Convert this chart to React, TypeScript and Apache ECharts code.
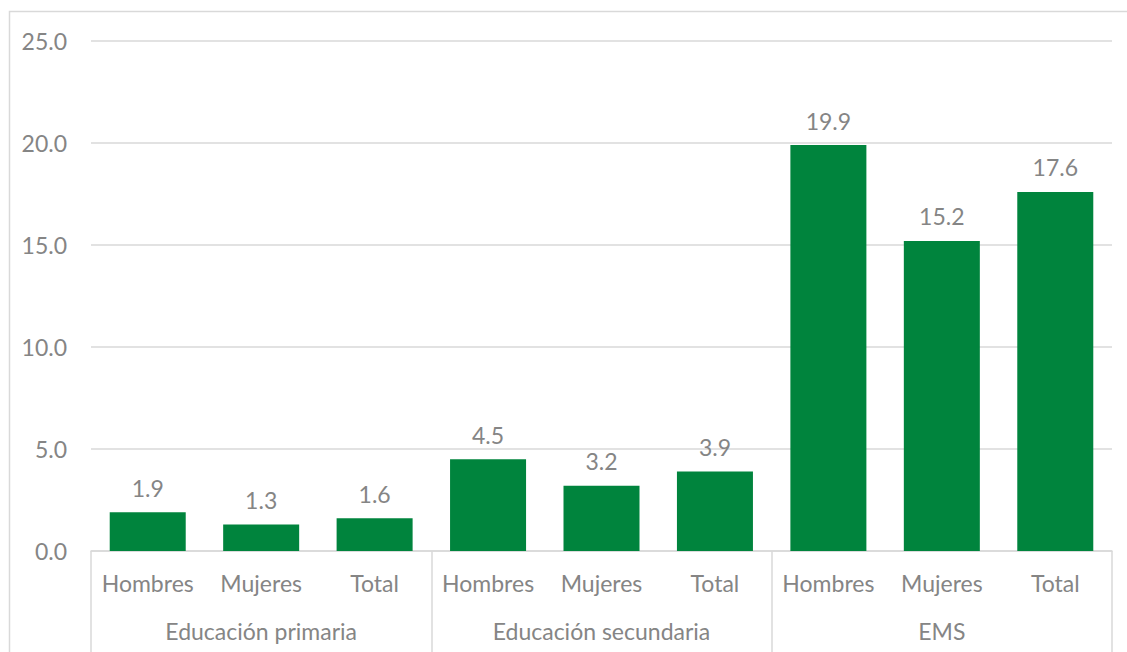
import React, { useEffect, useRef } from "react";
import * as echarts from "echarts";

const subCategories = ["Hombres", "Mujeres", "Total", "Hombres", "Mujeres", "Total", "Hombres", "Mujeres", "Total"];
const groups = ["Educación primaria", "Educación secundaria", "EMS"];
const values = [1.9, 1.3, 1.6, 4.5, 3.2, 3.9, 19.9, 15.2, 17.6];

const FONT = "Lato";
const GRAY = "#858585";
const LINE = "#d9d9d9";
const FS = 23;

export default function App() {
  const ref = useRef<HTMLDivElement>(null);
  useEffect(() => {
    if (!ref.current) return;
    const chart = echarts.init(ref.current, null, { renderer: "svg" });
    chart.setOption({
      animation: false,
      textStyle: { fontFamily: FONT },
      graphic: [
        {
          type: "rect",
          shape: { x: 9.5, y: 11.5, width: 1130, height: 660 },
          style: { fill: "none", stroke: LINE, lineWidth: 1.5 },
          silent: true,
        },
      ],
      grid: { left: 91, right: 15, top: 41, bottom: 101 },
      xAxis: [
        {
          type: "category",
          data: subCategories,
          position: "bottom",
          axisLine: { show: true, lineStyle: { color: LINE, width: 1.5 } },
          axisTick: { show: false },
          axisLabel: { color: GRAY, fontSize: FS, margin: 20, fontFamily: FONT, interval: 0 },
        },
        {
          type: "category",
          data: groups,
          position: "bottom",
          axisLine: { show: false },
          axisTick: { show: true, length: 102, lineStyle: { color: LINE, width: 1.5 } },
          axisLabel: { color: GRAY, fontSize: FS, margin: 68, fontFamily: FONT, interval: 0 },
        },
      ],
      yAxis: {
        type: "value",
        min: 0,
        max: 25,
        interval: 5,
        axisLine: { show: false },
        axisTick: { show: false },
        splitLine: { lineStyle: { color: LINE, width: 1.5 } },
        axisLabel: {
          color: GRAY,
          fontSize: FS,
          margin: 24,
          fontFamily: FONT,
          formatter: (v: number) => v.toFixed(1),
        },
      },
      series: [
        {
          type: "bar",
          data: values,
          xAxisIndex: 0,
          barCategoryGap: "33%",
          itemStyle: { color: "#00843D" },
          label: {
            show: true,
            position: "top",
            distance: 13,
            color: GRAY,
            fontSize: FS,
            fontFamily: FONT,
            formatter: (p: any) => Number(p.value).toFixed(1),
          },
        },
      ],
    });
    return () => chart.dispose();
  }, []);
  return (
    <div
      ref={ref}
      style={{ position: "absolute", left: 0, top: 0, width: 1127, height: 652, background: "#ffffff" }}
    />
  );
}
